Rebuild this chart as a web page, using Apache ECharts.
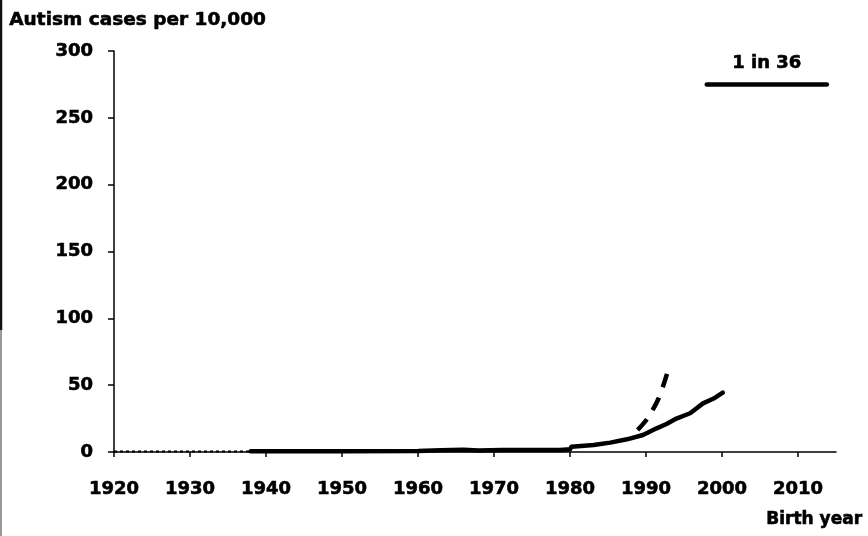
<!DOCTYPE html>
<html>
<head>
<meta charset="utf-8">
<script src="https://cdn.jsdelivr.net/npm/echarts@6/dist/echarts.min.js"></script>
<style>
  html, body { margin: 0; padding: 0; background: #fff; }
  #chart { width: 868px; height: 536px; }
</style>
</head>
<body>
<div id="chart"></div>
<script>
// tick labels
const years = [1920, 1930, 1940, 1950, 1960, 1970, 1980, 1990, 2000, 2010]

// early records, drawn dotted on the baseline
const earlyCases = [[1920, 0.4], [1938, 0.4]]

// autism cases per 10,000 by birth year (solid line)
const casesYears = [1938, 1950, 1960, 1963, 1966, 1968, 1971, 1975, 1978.7, 1980, 1980.2, 1983.1, 1985.3, 1987.5, 1989.6, 1991.4, 1992.7, 1994, 1995.8, 1997.5, 1998.9, 2000.1]
const casesValues = [0.5, 0.5, 0.8, 1.3, 1.6, 1.2, 1.5, 1.5, 1.5, 2, 4, 5.2, 7, 9.5, 12.7, 17.7, 21, 25, 29, 36.4, 40, 44.4]

// steeper estimate (dashed line)
const dashYears = [1988.9, 1990.2, 1991.7, 1992.8]
const dashValues = [16.5, 25.2, 40.6, 59.3]

// 1 in 36 reference line
const refLabel = '1 in 36'
const refValue = 275
const refFrom = 1998
const refTo = 2013.8

const pairs = (xs, ys) => xs.map((x, i) => [x, ys[i]])

// heavy bold look of the scanned labels
const labelFont = {
  fontFamily: 'DejaVu Sans',
  fontWeight: 'bold',
  fontSize: 18,
  color: '#000',
  textBorderColor: '#000',
  textBorderWidth: 0.6
}

const chart = echarts.init(document.getElementById('chart'))
chart.setOption({
  animation: false,
  backgroundColor: '#fff',
  grid: { left: 114, right: 32, top: 51, bottom: 84 },
  xAxis: {
    type: 'value',
    min: 1920,
    max: 2015,
    interval: 10,
    axisLine: { show: true, onZero: false, lineStyle: { color: '#000', width: 1.5 } },
    axisTick: { show: true, length: 5, customValues: years, lineStyle: { color: '#000', width: 1.5 } },
    axisLabel: {
      ...labelFont,
      margin: 28,
      customValues: years,
      formatter: v => String(v)
    },
    splitLine: { show: false }
  },
  yAxis: {
    type: 'value',
    min: 0,
    max: 300,
    interval: 50,
    axisLine: { show: true, lineStyle: { color: '#000', width: 1.5 } },
    axisTick: { show: true, length: 6, lineStyle: { color: '#000', width: 1.5 } },
    axisLabel: { ...labelFont, margin: 21 },
    splitLine: { show: false }
  },
  series: [
    {
      type: 'line',
      data: earlyCases,
      symbol: 'none',
      clip: false,
      lineStyle: { color: '#000', width: 2, type: [3, 3] }
    },
    {
      type: 'line',
      data: pairs(casesYears, casesValues),
      symbol: 'none',
      clip: false,
      lineStyle: { color: '#000', width: 4.5, cap: 'round', join: 'round' }
    },
    {
      type: 'line',
      data: pairs(dashYears, dashValues),
      symbol: 'none',
      smooth: 0.3,
      lineStyle: { color: '#000', width: 4.5, type: [14, 11] }
    },
    {
      type: 'line',
      data: [],
      markLine: {
        silent: true,
        symbol: 'none',
        lineStyle: { color: '#000', width: 4.5, type: 'solid', cap: 'round' },
        label: {
          show: true,
          position: 'middle',
          distance: 12,
          formatter: refLabel,
          ...labelFont
        },
        data: [[{ coord: [refFrom, refValue] }, { coord: [refTo, refValue] }]]
      }
    }
  ],
  graphic: [
    {
      type: 'text',
      left: 9,
      top: 10,
      style: {
        text: 'Autism cases per 10,000',
        font: 'bold 18.5px "DejaVu Sans"',
        fill: '#000',
        stroke: '#000',
        lineWidth: 0.6
      }
    },
    {
      type: 'text',
      left: 766,
      top: 511,
      style: {
        text: 'Birth year',
        font: 'bold 17px "DejaVu Sans"',
        fill: '#000',
        stroke: '#000',
        lineWidth: 0.6
      }
    },
    {
      type: 'line',
      shape: { x1: 1, y1: 0, x2: 1, y2: 330 },
      style: { stroke: '#111', lineWidth: 2.5 }
    },
    {
      type: 'line',
      shape: { x1: 1, y1: 330, x2: 1, y2: 536 },
      style: { stroke: '#777', lineWidth: 1.5 }
    }
  ]
})
</script>
</body>
</html>
